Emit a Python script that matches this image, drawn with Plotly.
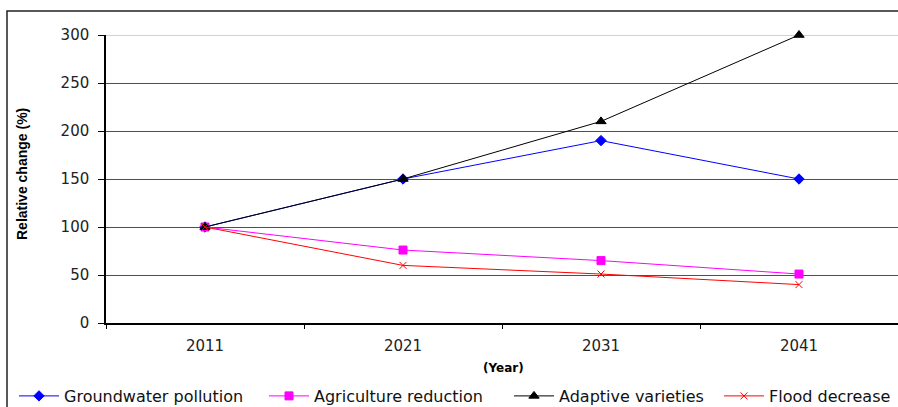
import plotly.graph_objects as go

years = ["2011", "2021", "2031", "2041"]
groundwater = [100, 150, 190, 150]
agriculture = [100, 76, 65, 51]
adaptive = [100, 150, 210, 300]
flood = [100, 60, 51, 40]
yticks = [0, 50, 100, 150, 200, 250, 300]

W, H = 898, 407
L, R, T, B = 106, 0, 35, 84
pw, ph = W - L - R, H - T - B

def px_x(p):
    return (p - L) / pw

def px_y(p):
    return (H - B - p) / ph

fig = go.Figure()
series = [
    ("Groundwater pollution", groundwater, "#0000FF", "diamond", 8, "legend", 14),
    ("Agriculture reduction", agriculture, "#FF00FF", "square", 8, "legend2", 264),
    ("Adaptive varieties", adaptive, "#000000", "triangle-up", 9, "legend3", 509),
    ("Flood decrease", flood, "#FF0000", "x-thin-open", 7, "legend4", 719),
]
legend_font = dict(family="DejaVu Sans", size=16, color="#111")
legends = {}
for name, vals, col, sym, sz, lg, lx in series:
    fig.add_trace(go.Scatter(
        x=years, y=vals, name=name, mode="lines+markers", cliponaxis=False,
        line=dict(color=col, width=1), legend=lg,
        marker=dict(symbol=sym, size=sz, color=col, line=dict(color=col, width=1)),
    ))
    legends[lg] = dict(orientation="h", x=px_x(lx), xanchor="left", y=px_y(396), yanchor="middle",
                       font=legend_font, itemwidth=40, bgcolor="rgba(0,0,0,0)")

fig.add_shape(type="rect", xref="paper", yref="paper",
              x0=px_x(7), x1=px_x(W + 20), y0=px_y(H + 20), y1=px_y(11),
              line=dict(color="#222222", width=1.5), fillcolor="rgba(0,0,0,0)", layer="below")
# lighter top gridline as in the reference
fig.add_shape(type="line", xref="paper", yref="y", x0=0, x1=1, y0=yticks[-1], y1=yticks[-1],
              line=dict(color="#a8a8a8", width=1.2), layer="below")

narrow = "Liberation Sans Narrow, Arial Narrow, Liberation Sans"
fig.add_annotation(text="<b>(Year)</b>", xref="paper", yref="paper",
                   x=px_x(503), y=px_y(368), xanchor="center", yanchor="middle", showarrow=False,
                   font=dict(family="DejaVu Sans", size=12, color="#000"))
fig.add_annotation(text="<b>Relative change (%)</b>", xref="paper", yref="paper",
                   x=px_x(22), y=px_y(174), xanchor="center", yanchor="middle",
                   showarrow=False, textangle=-90,
                   font=dict(family=narrow, size=14, color="#000"))

tickfont = dict(family="DejaVu Sans", size=15, color="#222")
fig.update_layout(
    width=W, height=H,
    margin=dict(l=L, r=R, t=T, b=B, pad=0, autoexpand=False),
    paper_bgcolor="white", plot_bgcolor="white",
    font=dict(family="DejaVu Sans", size=15, color="#222"),
    xaxis=dict(type="category", range=[-0.5, 3.5], showline=True, linecolor="#000", linewidth=1.5,
               ticks="outside", tickson="boundaries", ticklen=4, tickcolor="#000",
               ticklabelstandoff=8,
               showgrid=False, tickfont=tickfont, zeroline=False),
    yaxis=dict(range=[0, 300], tickvals=yticks, showline=True, linecolor="#000", linewidth=1.5,
               ticks="outside", ticklen=6, tickcolor="#000", ticklabelstandoff=6,
               showgrid=True, gridcolor="#505050", gridwidth=1, zeroline=False,
               tickfont=tickfont),
    showlegend=True,
    **legends,
)

fig.write_html("out.html")
